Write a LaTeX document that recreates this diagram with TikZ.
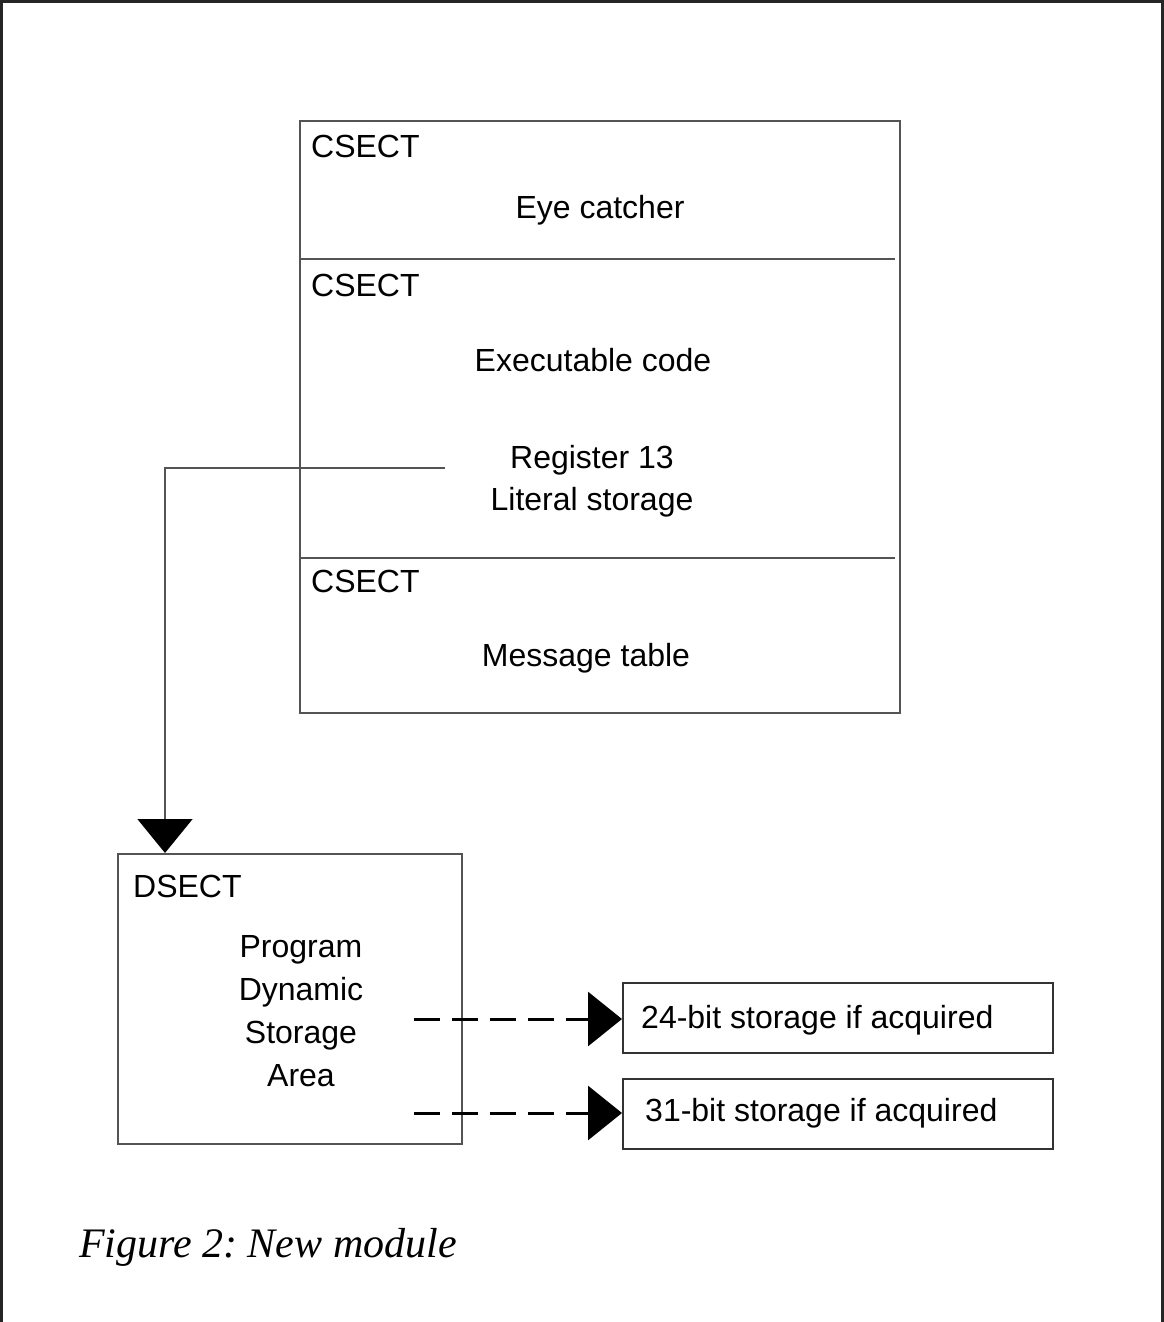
\documentclass[tikz,border=0pt]{standalone}
\usepackage{fontspec}
\setmainfont{Liberation Sans}
\newfontfamily\capfont{Liberation Serif}
\usetikzlibrary{arrows.meta}
\definecolor{ln}{gray}{0.33}
\frenchspacing
\begin{document}
\begin{tikzpicture}[x=1pt,y=-1pt,
  lbl/.style={font=\fontsize{32}{38}\selectfont, inner sep=0pt, anchor=base},
  lbll/.style={lbl, anchor=base west},
  rect/.style={draw=ln, line width=1.5pt, anchor=north west, inner sep=0pt},
  boxline/.style={draw=ln, line width=1.5pt},
  conn/.style={draw=ln, line width=1.5pt, -{Triangle[width=55pt,length=34pt,fill=black,color=black]}},
  dconn/.style={draw=black, line width=3pt, dash pattern=on 26pt off 12pt, -{Triangle[width=54pt,length=34pt]}}
]
\useasboundingbox (0,0) rectangle (1164,1322);
% outer frame
\draw[line width=3pt, draw=black!85] (1.5,1322) -- (1.5,1.5) -- (1162.5,1.5) -- (1162.5,1322);

% main CSECT box
\node[rect, minimum width=600pt, minimum height=592pt] (cs) at (299,120) {};
\draw[boxline] (299,259) -- (895,259);
\draw[boxline] (299,558) -- (895,558);

\node[lbll] (c1) at (311,157) {CSECT};
\node[lbl] (eye) at (600,218) {Eye catcher};
\node[lbll] (c2) at (311,296) {CSECT};
\node[lbl] (exe) at (593,371) {Executable code};
\node[lbl] (reg) at (592,468) {Register 13};
\node[lbl] (lit) at (592,510) {Literal storage};
\node[lbll] (c3) at (311,592) {CSECT};
\node[lbl] (msg) at (586,666) {Message table};

% DSECT box
\node[rect, minimum width=344pt, minimum height=290pt] (dbox) at (117,853) {};
\node[lbll] (ds) at (133,897) {DSECT};
\node[lbl] (p1) at (301,957) {Program};
\node[lbl] (p2) at (301,1000) {Dynamic};
\node[lbl] (p3) at (301,1043) {Storage};
\node[lbl] (p4) at (301,1086) {Area};

% storage boxes
\node[rect, draw=black!80, minimum width=430pt, minimum height=70pt] (b24) at (622,982) {};
\node[lbll] (t24) at (641,1028) {24-bit storage if acquired};
\node[rect, draw=black!80, minimum width=430pt, minimum height=70pt] (b31) at (622,1078) {};
\node[lbll] (t31) at (645,1121) {31-bit storage if acquired};

% register 13 connector
\coordinate (r13) at (445,468);
\coordinate (bend) at (165,468);
\draw[conn] (r13) -- (bend) -- (bend |- dbox.north);

% dashed connectors
\coordinate (d1) at (414,1019);
\coordinate (d2) at (414,1113);
\draw[dconn] (d1) -- (d1 -| b24.west);
\draw[dconn] (d2) -- (d2 -| b31.west);

% caption
\node[anchor=base west, inner sep=0pt, font=\capfont\itshape\fontsize{42}{48}\selectfont] (cap) at (79,1257) {Figure 2: New module};
\end{tikzpicture}
\end{document}
